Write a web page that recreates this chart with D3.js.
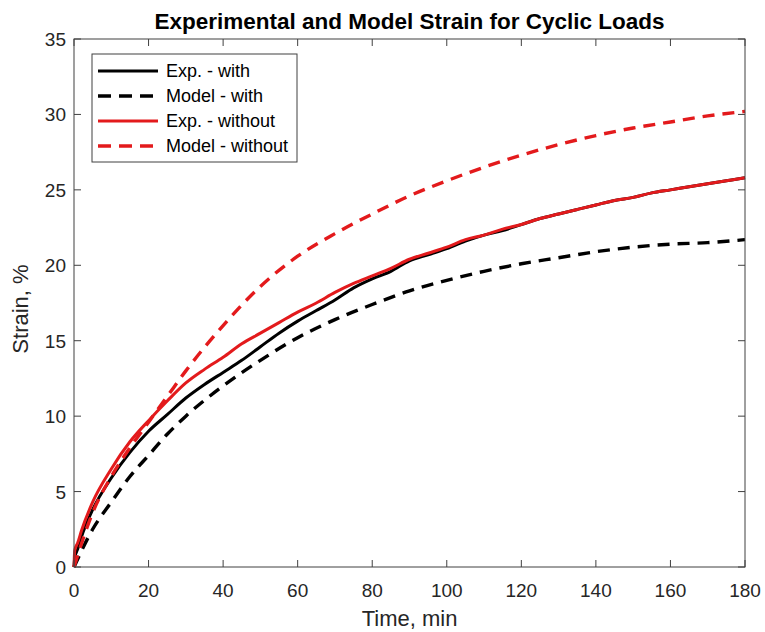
<!DOCTYPE html>
<html>
<head>
<meta charset="utf-8">
<script src="https://cdn.jsdelivr.net/npm/d3@7"></script>
<style>
  body { margin: 0; background: #fff; }
</style>
</head>
<body>
<div id="plot"></div>
<script>
// time points (min)
const tExp = [0, 0.2, 1, 2, 5, 10, 15, 20, 25, 30, 35, 40, 45, 50, 55, 60, 65, 70, 75, 80, 85, 90, 95, 100,
  105, 110, 115, 120, 125, 130, 135, 140, 145, 150, 155, 160, 165, 170, 175, 180];
const expWith = [0, 0.6, 1.2, 2.0, 3.8, 5.9, 7.6, 9.0, 10.1, 11.2, 12.1, 12.9, 13.7, 14.6, 15.5, 16.3, 17.0, 17.7, 18.5, 19.1,
  19.6, 20.3, 20.7, 21.1, 21.6, 22.0, 22.3, 22.7, 23.1, 23.4, 23.7, 24.0, 24.3, 24.5, 24.8, 25.0, 25.2, 25.4, 25.6, 25.8];
const expWithout = [0, 1.1, 1.6, 2.4, 4.3, 6.5, 8.3, 9.7, 11.0, 12.2, 13.1, 13.9, 14.8, 15.5, 16.2, 16.9, 17.5, 18.2, 18.8, 19.3,
  19.8, 20.4, 20.8, 21.2, 21.7, 22.0, 22.4, 22.7, 23.1, 23.4, 23.7, 24.0, 24.3, 24.5, 24.8, 25.0, 25.2, 25.4, 25.6, 25.8];

const tModel = [0, 5, 10, 15, 20, 25, 30, 40, 50, 60, 70, 80, 90, 100, 110, 120, 130, 140, 150, 160, 170, 180];
const modelWith = [0, 2.5, 4.3, 6.0, 7.4, 8.8, 10.0, 12.0, 13.7, 15.2, 16.4, 17.4, 18.3, 19.0, 19.6, 20.1, 20.5, 20.9, 21.2, 21.4, 21.5, 21.7];
const modelWithout = [0, 3.6, 6.0, 7.9, 9.6, 11.3, 13.0, 16.0, 18.6, 20.6, 22.1, 23.4, 24.6, 25.6, 26.5, 27.3, 28.0, 28.6, 29.1, 29.5, 29.9, 30.2];

const xTicks = [0, 20, 40, 60, 80, 100, 120, 140, 160, 180];
const yTicks = [0, 5, 10, 15, 20, 25, 30, 35];

const RED = "#e31a1c";
const AX = "#404040";
const FONT = "Liberation Sans, Arial, Helvetica, sans-serif";

const series = [
  { name: "Exp. - with", t: tExp, v: expWith, color: "#000", dash: null },
  { name: "Model - with", t: tModel, v: modelWith, color: "#000", dash: "12,8" },
  { name: "Exp. - without", t: tExp, v: expWithout, color: RED, dash: null },
  { name: "Model - without", t: tModel, v: modelWithout, color: RED, dash: "12,8" }
];

const w = 765, h = 632;
const margin = { top: 39, right: 20, bottom: 65, left: 74 };
const innerWidth = w - margin.left - margin.right;
const innerHeight = h - margin.top - margin.bottom;

const xScale = d3.scaleLinear().domain([0, 180]).range([0, innerWidth]);
const yScale = d3.scaleLinear().domain([0, 35]).range([innerHeight, 0]);

const svg = d3.select("div#plot").append("svg")
  .attr("width", w)
  .attr("height", h)
  .style("display", "block");

const g = svg.append("g")
  .attr("transform", `translate(${margin.left}, ${margin.top})`);

// curves
const line = d3.line()
  .x(d => xScale(d[0]))
  .y(d => yScale(d[1]))
  .curve(d3.curveMonotoneX);

// draw order: model with, exp with, model without, exp without (red on top)
[series[1], series[0], series[3], series[2]].forEach(s => {
  g.append("path")
    .datum(s.t.map((t, i) => [t, s.v[i]]))
    .attr("fill", "none")
    .attr("stroke", s.color)
    .attr("stroke-width", s.dash ? 3.4 : 3)
    .attr("stroke-dasharray", s.dash)
    .attr("stroke-linejoin", "round")
    .attr("d", line);
});

// tick marks (inward) on all four sides
const tickG = g.append("g").attr("stroke", AX).attr("stroke-width", 1);
xTicks.forEach(t => {
  tickG.append("line").attr("x1", xScale(t)).attr("x2", xScale(t)).attr("y1", innerHeight).attr("y2", innerHeight - 7);
  tickG.append("line").attr("x1", xScale(t)).attr("x2", xScale(t)).attr("y1", 0).attr("y2", 7);
});
yTicks.forEach(v => {
  tickG.append("line").attr("x1", 0).attr("x2", 7).attr("y1", yScale(v)).attr("y2", yScale(v));
  tickG.append("line").attr("x1", innerWidth).attr("x2", innerWidth - 7).attr("y1", yScale(v)).attr("y2", yScale(v));
});

// tick labels
g.selectAll(".xlab")
  .data(xTicks)
  .join("text")
  .attr("class", "xlab")
  .attr("x", d => xScale(d))
  .attr("y", innerHeight + 30)
  .attr("text-anchor", "middle")
  .attr("font-family", FONT)
  .attr("font-size", 19)
  .attr("fill", "#262626")
  .text(d => d);

g.selectAll(".ylab")
  .data(yTicks)
  .join("text")
  .attr("class", "ylab")
  .attr("x", -8)
  .attr("y", d => yScale(d) + 7)
  .attr("text-anchor", "end")
  .attr("font-family", FONT)
  .attr("font-size", 19)
  .attr("fill", "#262626")
  .text(d => d);

g.append("rect")
  .attr("x", 0).attr("y", 0)
  .attr("width", innerWidth).attr("height", innerHeight)
  .attr("fill", "none")
  .attr("stroke", AX)
  .attr("stroke-width", 1);

// title
svg.append("text")
  .attr("x", margin.left + innerWidth / 2)
  .attr("y", 29)
  .attr("text-anchor", "middle")
  .attr("font-family", FONT)
  .attr("font-size", 22.5)
  .attr("font-weight", "bold")
  .attr("fill", "#000")
  .text("Experimental and Model Strain for Cyclic Loads");

// axis labels
svg.append("text")
  .attr("x", margin.left + innerWidth / 2)
  .attr("y", 626)
  .attr("text-anchor", "middle")
  .attr("font-family", FONT)
  .attr("font-size", 22)
  .attr("fill", "#262626")
  .text("Time, min");

svg.append("text")
  .attr("transform", "rotate(-90)")
  .attr("x", -309)
  .attr("y", 28)
  .attr("text-anchor", "middle")
  .attr("font-family", FONT)
  .attr("font-size", 22)
  .attr("fill", "#262626")
  .text("Strain, %");

// legend
const legend = svg.append("g").attr("transform", "translate(92, 54)");
legend.append("rect")
  .attr("width", 205).attr("height", 108)
  .attr("fill", "#fff")
  .attr("stroke", AX)
  .attr("stroke-width", 1);

series.forEach((s, i) => {
  const y = 17 + i * 25;
  legend.append("line")
    .attr("x1", 6).attr("x2", 66)
    .attr("y1", y).attr("y2", y)
    .attr("stroke", s.color)
    .attr("stroke-width", s.dash ? 3.4 : 3)
    .attr("stroke-dasharray", s.dash ? "13,8" : null);
  legend.append("text")
    .attr("x", 74)
    .attr("y", y + 6)
    .attr("font-family", FONT)
    .attr("font-size", 18)
    .attr("fill", "#000")
    .text(s.name);
});
</script>
</body>
</html>
